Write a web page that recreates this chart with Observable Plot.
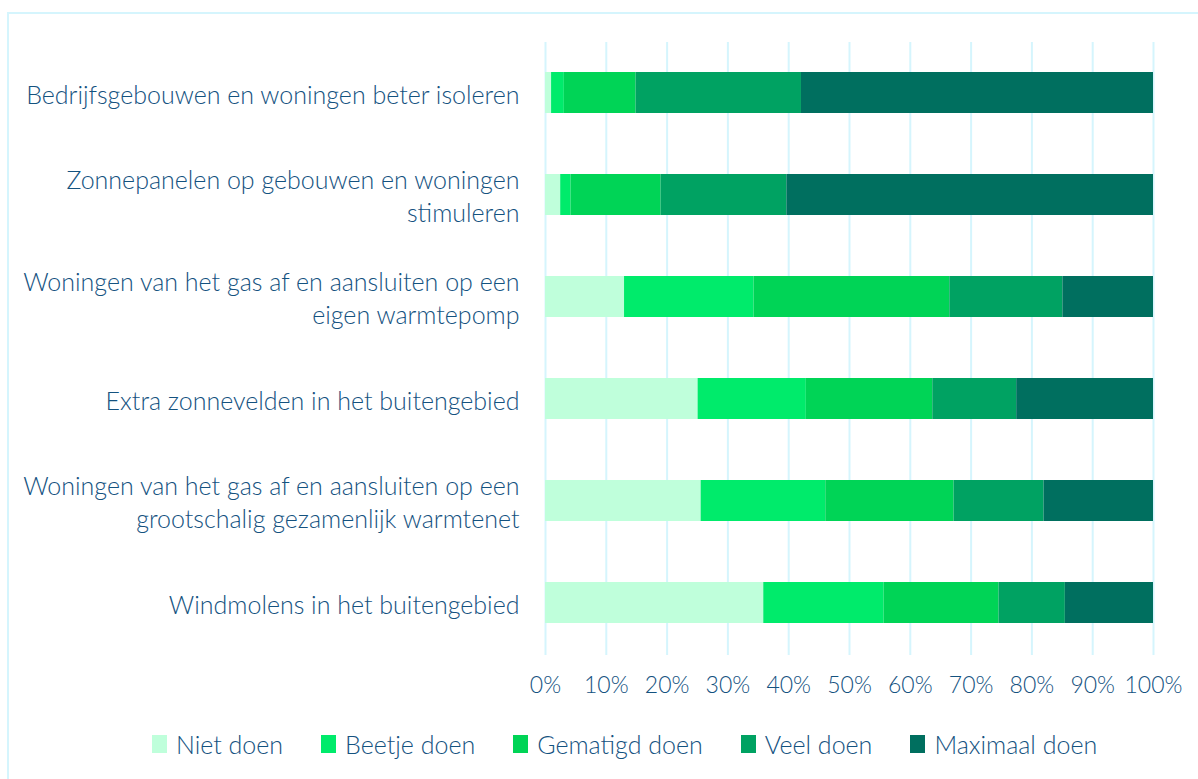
<!DOCTYPE html>
<html>
<head>
<meta charset="utf-8">
<script src="https://cdn.jsdelivr.net/npm/d3@7"></script>
<script src="https://cdn.jsdelivr.net/npm/@observablehq/plot@0.6"></script>
<style>
  html, body { margin: 0; padding: 0; background: #fff; width: 1198px; height: 779px; overflow: hidden; }
  body { position: relative; font-family: "Lato", "Open Sans", sans-serif; font-weight: 300; }
  #frame { position: absolute; left: 7px; top: 12px; width: 1400px; height: 1000px; border: 2px solid #d5f5fd; box-sizing: border-box; }
  #chart { position: absolute; left: 0; top: 0; }
  #legend { position: absolute; left: 152px; top: 729px; display: flex; align-items: center; color: #14527f; font-size: 25px; font-weight: 300; }
  #legend .item { display: flex; align-items: center; margin-right: 38px; }
  #legend .sw { width: 15px; height: 18px; margin-right: 9px; }
</style>
</head>
<body>
<div id="frame"></div>
<div id="chart"></div>
<div id="legend"></div>
<script>
const categories = [
  "Bedrijfsgebouwen en woningen beter isoleren",
  "Zonnepanelen op gebouwen en woningen\nstimuleren",
  "Woningen van het gas af en aansluiten op een\neigen warmtepomp",
  "Extra zonnevelden in het buitengebied",
  "Woningen van het gas af en aansluiten op een\ngrootschalig gezamenlijk warmtenet",
  "Windmolens in het buitengebied"
];
const series = ["Niet doen", "Beetje doen", "Gematigd doen", "Veel doen", "Maximaal doen"];
const colors = ["#bfffdb", "#00eb6b", "#00d456", "#00a262", "#006f5f"];
const niet     = [1.0, 2.5, 13.0, 25.1, 25.6, 35.9];
const beetje   = [2.1, 1.7, 21.3, 17.8, 20.5, 19.8];
const gematigd = [11.8, 14.8, 32.2, 20.8, 21.1, 18.9];
const veel     = [27.2, 20.7, 18.6, 13.8, 14.8, 10.9];
const maximaal = [57.9, 60.3, 14.9, 22.5, 18.0, 14.5];
const tickValues = [0, 0.1, 0.2, 0.3, 0.4, 0.5, 0.6, 0.7, 0.8, 0.9, 1.0];

const seriesValues = [niet, beetje, gematigd, veel, maximaal];
const data = [];
categories.forEach((c, i) => {
  series.forEach((s, j) => data.push({category: c, series: s, value: seriesValues[j][i]}));
});

const textColor = "#14527f";

const chart = Plot.plot({
  width: 1198,
  height: 712,
  marginLeft: 545,
  marginRight: 45,
  marginTop: 42,
  marginBottom: 60,
  style: {fontFamily: "Lato, 'Open Sans', sans-serif", fontSize: "24px", color: textColor, background: "transparent"},
  x: {domain: [0, 1], ticks: tickValues, tickFormat: d => Math.round(d * 100) + "%", tickSize: 0, tickPadding: 26, label: null, grid: false},
  y: {domain: categories, paddingInner: 0.6, paddingOuter: 0.28, axis: null},
  color: {domain: series, range: colors},
  marks: [
    Plot.ruleX(tickValues, {stroke: "#d5f5fd", strokeWidth: 2, strokeOpacity: 1, y1: null, y2: null, insetBottom: -3}),
    Plot.barX(data, Plot.stackX({x: "value", y: "category", fill: "series", offset: "normalize", order: series})),
    Plot.text(categories, {x: () => 0, y: d => d, text: d => d, textAnchor: "end", dx: -26, fontSize: 25, fontWeight: 300, lineHeight: 1.32, fill: textColor}),
    Plot.axisX({ticks: tickValues, tickFormat: d => Math.round(d * 100) + "%", tickSize: 0, tickPadding: 24, fontSize: 23, fontWeight: 300, fill: textColor, label: null})
  ]
});
document.getElementById("chart").appendChild(chart);

const legend = document.getElementById("legend");
series.forEach((s, i) => {
  const item = document.createElement("div");
  item.className = "item";
  const sw = document.createElement("span");
  sw.className = "sw";
  sw.style.background = colors[i];
  const t = document.createElement("span");
  t.textContent = s;
  item.appendChild(sw);
  item.appendChild(t);
  legend.appendChild(item);
});
</script>
</body>
</html>
